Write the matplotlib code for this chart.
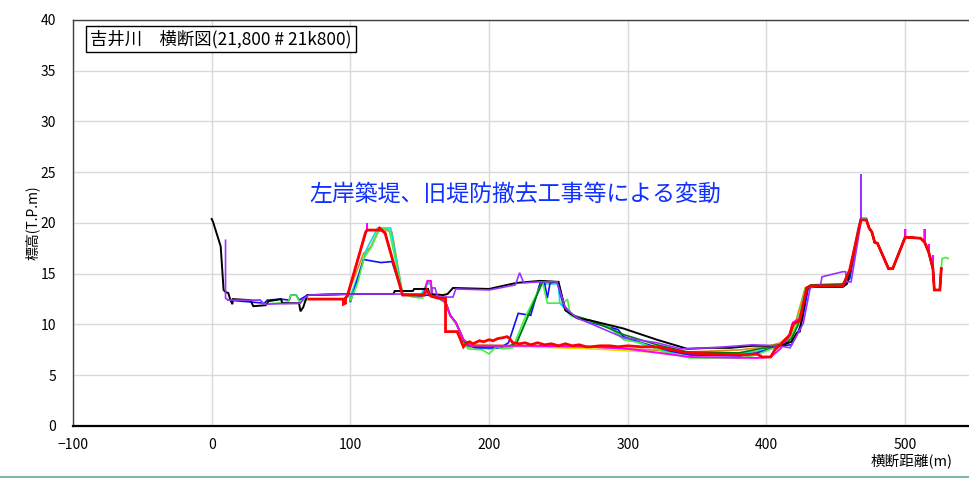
import numpy as np
import matplotlib
matplotlib.use('Agg')
import matplotlib.pyplot as plt
from matplotlib.lines import Line2D

plt.rcParams['font.family'] = ['Noto Sans CJK JP', 'DejaVu Sans']

# right bank section shared by all surveys (x >= 468)
tail = [(468, 20.3), (472, 20.3), (474, 19.5), (476, 19.1), (478, 18.1), (480, 18.0),
        (488, 15.5), (491, 15.5), (500, 18.6), (511, 18.5), (514, 18.1), (517, 17.1),
        (520, 15.5), (521, 13.4), (525, 13.4), (526, 15.5)]

black = [(0, 20.4), (1, 20.1), (6.5, 17.7), (8.6, 13.4), (10, 13.2), (12, 13.1), (13.5, 12.4),
         (15, 12.0), (15.2, 12.5), (28, 12.4), (30, 11.8), (39, 11.9), (41, 12.3), (50, 12.5),
         (51, 12.1), (63, 12.1), (64, 11.3), (66, 11.7), (69, 12.9), (100, 13.0), (131, 13.0),
         (132, 13.3), (145, 13.3), (146, 13.5), (156, 13.5), (157, 13.0), (167, 12.9), (170, 13.0),
         (174, 13.6), (200, 13.5), (213, 13.9), (220, 14.1), (237, 14.3), (250, 14.2), (255, 11.4),
         (264, 10.6), (273, 10.4), (297, 9.6), (321, 8.5), (343, 7.6), (360, 7.7), (374, 7.7),
         (390, 7.9), (406, 7.9), (412, 8.0), (418, 8.3), (422, 9.2), (424, 9.3), (429, 13.6),
         (432, 13.7), (455, 13.7), (458, 14.0), (462, 16.5)] + tail

purple = [(10, 18.3), (10, 12.6), (12, 12.4), (35, 12.4), (38, 12.0), (64, 12.1), (66, 12.5),
          (70, 12.9), (100, 13.0), (158, 13.0), (159, 13.6), (161, 13.6), (163, 12.7), (174, 12.7),
          (176, 13.5), (200, 13.4), (219, 13.9), (222, 15.1), (225, 14.1), (237, 14.2), (249, 14.2),
          (255, 11.6), (264, 10.6), (273, 10.1), (297, 8.7), (321, 8.2), (338, 7.6), (360, 7.7),
          (390, 8.0), (406, 7.9), (413, 7.8), (417, 7.7), (426.5, 10.1), (431.5, 13.6), (439, 13.9),
          (440, 14.7), (455, 15.2), (457, 15.2), (458, 14.2), (461, 14.2), (468, 20.0), (468, 24.8),
          (468, 20.3)] + tail

blue = [(12, 12.4), (38, 12.1), (40, 12.4), (50, 12.5), (56, 12.4), (57, 12.9), (61, 12.9),
        (63, 12.4), (69, 12.9), (99, 13.0), (100, 12.2), (109.5, 16.4), (122, 16.1), (130, 16.2),
        (137.6, 13.0), (152, 12.8), (155, 12.9), (160, 12.8), (163, 12.7), (168.6, 12.2),
        (172, 10.9), (176, 10.2), (179, 9.3), (181.5, 8.5), (185, 8.0), (190, 7.7), (208, 7.7),
        (214, 8.2), (221, 11.1), (230, 10.9), (237, 14.2), (240, 14.1), (242, 12.6), (244, 14.1),
        (249, 14.2), (253.6, 11.9), (262, 10.7), (273, 10.2), (285, 9.8), (293, 9.5), (297, 8.8),
        (310, 8.2), (330, 7.4), (345, 7.0), (381, 6.9), (393, 7.2), (405, 7.7), (410, 7.9),
        (418, 8.0), (422, 9.0), (426, 10.5), (430, 13.5), (433, 13.8), (455, 13.8), (460, 14.5)] + tail

green = [(12, 12.4), (35, 12.4), (38, 12.0), (55, 12.2), (57, 12.9), (61, 12.9), (63, 12.3),
         (68, 12.4), (69, 12.9), (99, 13.0), (100, 12.3), (105, 14.0), (110, 16.6), (115, 17.6),
         (120, 19.1), (123, 19.5), (128, 19.3), (137.6, 13.0), (145, 12.7), (152, 12.6), (155, 14.1),
         (158, 14.1), (159, 12.7), (163, 12.6), (168.6, 12.1), (172, 10.8), (176, 10.1), (179, 9.2),
         (181.5, 8.2), (185, 7.6), (195, 7.5), (200, 7.1), (205, 7.8), (210, 7.6), (217, 7.7),
         (226, 10.7), (235, 13.2), (238.5, 14.2), (242, 12.1), (253.6, 12.1), (256.5, 12.5),
         (258.6, 10.9), (264, 10.6), (273, 10.3), (285, 9.9), (293, 9.0), (297, 8.5), (309, 8.2),
         (328.5, 7.2), (345, 6.7), (381, 6.7), (393, 7.0), (405, 7.7), (412, 8.1), (418, 8.8),
         (422, 10.0), (428, 13.5), (432, 13.8), (455, 13.9), (460, 15.2)] + tail + \
        [(526.6, 16.5), (529, 16.6), (531, 16.5)]

cyan = [(100, 12.8), (106, 15.0), (112, 17.5), (119.6, 19.5), (129, 19.5), (137.6, 13.0),
        (150, 12.7), (155, 14.0), (158, 14.0), (159, 12.7), (163, 12.7), (168.6, 12.2),
        (172, 10.9), (176, 10.2), (179, 9.3), (181.5, 8.4), (185, 7.8), (200, 7.6), (215, 7.8),
        (220, 8.3), (238, 14.0), (250, 14.0), (251, 12.1), (258, 11.0), (265, 10.6), (273, 10.3),
        (290, 9.5), (297, 8.7), (310, 8.1), (330, 7.3), (345, 7.0), (381, 7.1), (400, 7.5),
        (410, 8.0), (418, 8.6), (423, 10.2), (429, 13.6), (432, 13.8), (455, 13.8), (460, 15.0),
        (466, 19.5), (468, 20.5), (472, 20.5)] + tail[2:]

darkgreen = [(163, 12.7), (168.6, 12.2), (172, 10.9), (176, 10.2), (179, 9.3), (181.5, 8.4),
             (185, 7.9), (200, 7.8), (215, 7.9), (220, 8.2), (238.5, 14.2), (250, 14.2),
             (255, 11.4), (261, 10.9), (273, 10.4), (280, 10.0), (297, 9.0), (321, 8.0),
             (343, 7.3), (380, 7.2), (395, 7.6), (406, 7.8), (412, 8.0), (418, 8.6), (423, 10.0),
             (429, 13.6), (432, 13.9), (455, 14.0), (460, 15.0)] + tail

orange = [(97, 12.6), (98, 12.9), (109.5, 17.0), (114.5, 17.6), (119.6, 19.1), (123, 19.4),
          (130, 19.1), (137.6, 13.0), (152.7, 12.9), (155.6, 14.3), (158, 14.3), (159, 12.8),
          (163, 12.7), (168.6, 12.2), (172, 10.9), (176, 10.2), (179, 9.3), (181.5, 8.5),
          (186.6, 8.0), (230, 7.9), (273, 7.8), (345, 7.3), (381, 7.5), (400, 7.8), (410, 8.2),
          (417, 9.0), (421, 10.2), (428, 13.6), (432, 13.8), (455, 13.8), (460, 15.2)] + tail

yellow = [(152.7, 12.8), (155.6, 14.2), (158, 14.2), (159, 12.8), (163, 12.7), (168.6, 12.2),
          (172, 10.9), (176, 10.2), (179, 9.3), (181.5, 8.4), (186.6, 7.9), (230, 7.8),
          (273, 7.6), (345, 7.1), (381, 7.2), (400, 7.4), (410, 8.0), (417, 8.9), (421, 10.2),
          (428, 13.6), (432, 13.8), (455, 13.8), (460, 15.2)] + tail

magenta = [(98, 12.9), (111, 19.0), (112, 19.3), (112, 20.0), (112, 19.3), (120, 19.3),
           (125, 19.1), (137.6, 12.9), (152.7, 12.9), (155.6, 14.3), (158, 14.3), (159, 12.8),
           (163, 12.7), (168.6, 12.2), (172, 10.9), (176, 10.2), (179, 9.3), (181.5, 8.5),
           (186.6, 7.9), (230, 7.9), (273, 7.8), (300, 7.6), (345, 6.8), (393, 6.7), (403, 6.8),
           (410, 7.6), (416, 8.8), (419, 10.2), (424, 10.6), (429, 13.6), (432, 13.8), (455, 13.8),
           (460, 15.3), (468, 20.3), (472, 20.3), (474, 19.5), (476, 19.1), (478, 18.1), (480, 18.0),
           (488, 15.5), (491, 15.5), (500, 18.6), (500, 19.4), (500, 18.6), (511, 18.5), (514, 18.1),
           (514, 19.4), (514, 18.1), (517, 17.1), (517, 17.9), (517, 17.1), (520, 15.5), (520, 16.8),
           (520, 15.5), (521, 13.4), (525, 13.4), (526, 15.5)]

red = [(70, 12.5), (95, 12.5), (95, 12.0), (96.5, 12.1), (96.5, 12.6), (98, 12.9), (111, 19.1),
       (112, 19.3), (120, 19.3), (121, 19.5), (125, 19.0), (137.6, 12.9), (152.7, 12.9),
       (155, 13.4), (158, 12.8), (163, 12.6), (168.6, 12.6), (168.6, 9.3), (177, 9.3), (181.5, 7.8),
       (184, 8.2), (186, 8.3), (188, 8.1), (190, 8.2), (193, 8.4), (196, 8.3), (200, 8.5),
       (203, 8.4), (206, 8.6), (210, 8.7), (213, 8.8), (215, 8.6), (217, 8.2), (222, 8.1),
       (226, 8.2), (230, 8.0), (235, 8.2), (240, 8.0), (245, 8.1), (250, 7.9), (255, 8.1),
       (260, 7.9), (265, 8.0), (270, 7.8), (273, 7.8), (280, 7.9), (287, 7.9), (293, 7.8),
       (300, 7.9), (310, 7.8), (321, 7.8), (332, 7.5), (343, 7.2), (360, 7.1), (381, 7.0),
       (393, 7.1), (397, 6.8), (403, 6.8), (406, 7.5), (410, 8.0), (417, 9.0), (419, 10.0),
       (424, 10.4), (429, 13.6), (431.5, 13.8), (455, 13.8), (460, 15.4)] + tail

series = [
    (yellow, '#e0e000', 1.2),
    (orange, '#e08a1e', 1.2),
    (cyan, '#00e0e0', 1.2),
    (blue, '#1010ff', 1.2),
    (green, '#44ee44', 1.2),
    (darkgreen, '#007a00', 1.2),
    (magenta, '#ff00ff', 1.4),
    (black, '#000000', 1.4),
    (purple, '#9933ff', 1.2),
    (red, '#ff0000', 2.0),
]

fig = plt.figure(figsize=(9.69, 4.78), dpi=100)
ax = fig.add_axes([0.0753, 0.1088, 0.9247, 0.8494])

for pts, c, lw in series:
    xy = np.array(pts)
    ax.plot(xy[:, 0], xy[:, 1], color=c, linewidth=lw, solid_joinstyle='miter')

ax.set_xlim(-100, 546)
ax.set_ylim(0, 40)
ax.set_xticks(np.arange(-100, 501, 100))
ax.set_yticks(np.arange(0, 41, 5))
ax.grid(True, color='#d9d9d9', linewidth=1)
ax.set_axisbelow(True)
ax.tick_params(length=0, labelsize=10, pad=9)
ax.tick_params(axis='y', pad=12)
for s in ['top', 'left']:
    ax.spines[s].set_color('#404040')
    ax.spines[s].set_linewidth(1)
ax.spines['right'].set_visible(False)
ax.spines['bottom'].set_color('black')
ax.spines['bottom'].set_linewidth(1.6)

ax.set_ylabel('標高(T.P.m)', fontsize=10, labelpad=1)
fig.text(0.983, 0.035, '横断距離(m)', ha='right', va='center', fontsize=10.5)

ax.text(-87.5, 38.15, '吉井川　横断図(21,800 # 21k800)', fontsize=12.5, ha='left', va='center',
        bbox=dict(boxstyle='square,pad=0.22', facecolor='white', edgecolor='black', linewidth=1))
ax.text(219, 22.8, '左岸築堤、旧堤防撤去工事等による変動', color='#1030ff', fontsize=16.5,
        ha='center', va='center')

fig.add_artist(Line2D([0, 1], [0.003, 0.003], color='#80b8a8', linewidth=1.5,
                      transform=fig.transFigure))

fig.savefig('out.png', dpi=100)
